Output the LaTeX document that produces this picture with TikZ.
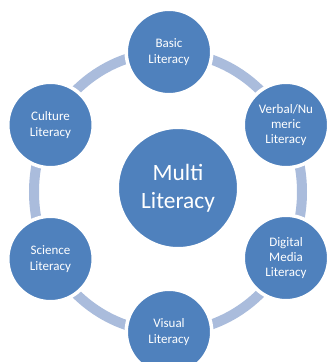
\documentclass[tikz,border=0pt]{standalone}
\usepackage{fontspec}
\setmainfont{Carlito}
\definecolor{cblue}{RGB}{79,129,189}
\definecolor{ringblue}{RGB}{170,188,220}
\tikzset{
  outer/.style={circle, fill=cblue, draw=white, line width=3.5pt, minimum size=85.5pt, inner sep=0pt,
    text=white, align=center, font=\fontsize{13}{15.3}\selectfont},
  center/.style={circle, fill=cblue, draw=white, line width=3.5pt, minimum size=121.5pt, inner sep=0pt,
    text=white, align=center, font=\fontsize{23.4}{28}\selectfont},
  ring/.style={draw=ringblue, line width=10pt}
}
\begin{document}
\begin{tikzpicture}[x=1pt,y=-1pt]
\useasboundingbox (0,0) rectangle (331,362);
\clip (0,0) rectangle (331,362);
\draw[ring] (168,192) ellipse [x radius=134pt, y radius=140pt];
\node[outer] (basic) at (169,52) {Basic\\Literacy};
\node[outer] (verbal) at (286,125) {Verbal/Nu\\meric\\Literacy};
\node[outer] (digital) at (286,258) {Digital\\Media\\Literacy};
\node[outer] (visual) at (169,332) {Visual\\Literacy};
\node[outer] (science) at (50.5,259) {Science\\Literacy};
\node[outer] (culture) at (50.5,125) {Culture\\Literacy};
\node[center] (multi) at (178,188) {Multi\\Literacy};
\end{tikzpicture}
\end{document}
